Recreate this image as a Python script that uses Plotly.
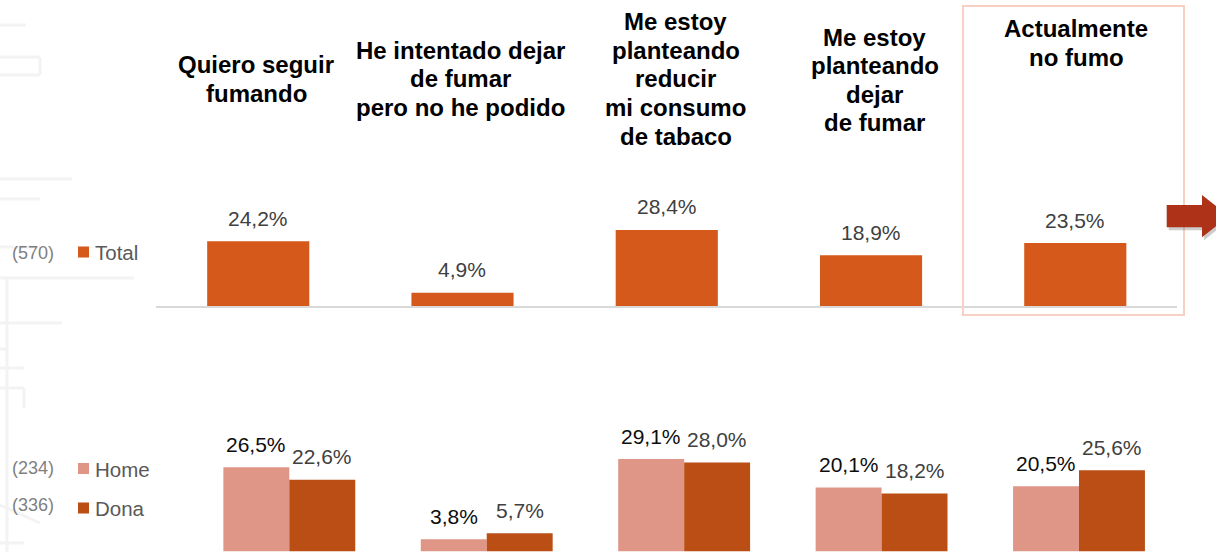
import plotly.graph_objects as go

# ---- data -------------------------------------------------------------
categories = [
    "Quiero seguir<br>fumando",
    "He intentado dejar<br>de fumar<br>pero no he podido",
    "Me estoy<br>planteando<br>reducir<br>mi consumo<br>de tabaco",
    "Me estoy<br>planteando<br>dejar<br>de fumar",
    "Actualmente<br>no fumo",
]
total = [24.2, 4.9, 28.4, 18.9, 23.5]
home = [26.5, 3.8, 29.1, 20.1, 20.5]
dona = [22.6, 5.7, 28.0, 18.2, 25.6]
series_names = ["Total", "Home", "Dona"]
sample_sizes = [570, 234, 336]

# ---- styling ----------------------------------------------------------
W, H = 1216, 552
FONT = "Liberation Sans, Arial, sans-serif"
C_TOTAL = "#D5591A"
C_HOME = "#E09686"
C_DONA = "#BA4E14"
C_LABEL = "#404040"


def px(x):
    return x / W


def py(y):
    return 1 - y / H


def pct(v):
    return f"{v:.1f}".replace(".", ",") + "%"


fig = go.Figure()

fig.add_trace(go.Bar(
    x=categories, y=total, name=series_names[0],
    xaxis="x", yaxis="y", width=0.5,
    marker=dict(color=C_TOTAL, line=dict(width=0)),
    hoverinfo="skip",
))
fig.add_trace(go.Bar(
    x=categories, y=home, name=series_names[1],
    xaxis="x2", yaxis="y2", width=0.334, offset=-0.334,
    marker=dict(color=C_HOME, line=dict(width=0)),
    hoverinfo="skip",
))
fig.add_trace(go.Bar(
    x=categories, y=dona, name=series_names[2],
    xaxis="x2", yaxis="y2", width=0.334, offset=0,
    marker=dict(color=C_DONA, line=dict(width=0)),
    hoverinfo="skip",
))

annotations = []

# value labels
for c, v in zip(categories, total):
    annotations.append(dict(
        x=c, y=v, xref="x", yref="y", text=pct(v), showarrow=False,
        yanchor="middle", yshift=23, font=dict(family=FONT, size=21, color=C_LABEL),
    ))
for c, v in zip(categories, home):
    annotations.append(dict(
        x=c, y=v, xref="x2", yref="y2", text=pct(v), showarrow=False,
        yanchor="middle", yshift=23, xshift=-33,
        font=dict(family=FONT, size=21, color="#0D0D0D"),
    ))
for c, v in zip(categories, dona):
    annotations.append(dict(
        x=c, y=v, xref="x2", yref="y2", text=pct(v), showarrow=False,
        yanchor="middle", yshift=23, xshift=33,
        font=dict(family=FONT, size=21, color=C_LABEL),
    ))

# column headers, one annotation per line
header_dx = [-2, -1.5, 9, 3.5, 1]
header_mid = [79, 79, 79, 80, None]
LINE_H = 28.5
for i, c in enumerate(categories):
    lines = c.split("<br>")
    if header_mid[i] is None:
        ys = [28.5 + k * LINE_H for k in range(len(lines))]
    else:
        top = header_mid[i] - (len(lines) - 1) * LINE_H / 2
        ys = [top + k * LINE_H for k in range(len(lines))]
    for line, yy in zip(lines, ys):
        annotations.append(dict(
            x=c, xref="x", xshift=header_dx[i], y=py(yy), yref="paper",
            text=line, showarrow=False, yanchor="middle", xanchor="center",
            font=dict(family=FONT, size=24, color="#000000", weight="bold"),
        ))

# legend block on the left
legend_rows = [
    (series_names[0], sample_sizes[0], C_TOTAL, 253, 252.5),
    (series_names[1], sample_sizes[1], C_HOME, 467.5, 469),
    (series_names[2], sample_sizes[2], C_DONA, 505, 508.5),
]
shapes = []

# faint decorative lines at the left edge
deco = [
    (0, 25, 26, 25), (0, 57, 40, 57), (40, 57, 40, 75), (0, 75, 40, 75),
    (0, 179, 72, 179), (0, 199, 40, 199), (0, 247, 40, 247),
    (0, 278, 134, 278), (7, 278, 7, 552), (0, 323, 62, 323),
    (0, 349, 7, 349), (0, 368, 24, 368), (0, 388, 24, 388),
    (24, 388, 24, 408), (0, 505, 40, 523), (0, 543, 24, 543),
]
for x0, y0, x1, y1 in deco:
    shapes.append(dict(
        type="line", xref="paper", yref="paper", layer="below",
        x0=px(x0), y0=py(y0), x1=px(x1), y1=py(y1),
        line=dict(color="#F3F3F3", width=3),
    ))

for name, n, color, yn, yt in legend_rows:
    annotations.append(dict(
        x=px(32.5), y=py(yn), xref="paper", yref="paper", text=f"({n})",
        showarrow=False, xanchor="center", yanchor="middle",
        font=dict(family=FONT, size=18, color="#7F7F7F"),
    ))
    annotations.append(dict(
        x=px(93), y=py(yt), xref="paper", yref="paper", text=name,
        showarrow=False, xanchor="left", yanchor="middle",
        font=dict(family=FONT, size=20.5, color="#595959"),
    ))
    shapes.append(dict(
        type="rect", xref="paper", yref="paper",
        x0=px(78), x1=px(89), y0=py(yt + 5), y1=py(yt - 6),
        fillcolor=color, line=dict(width=0),
    ))

# highlight frame around the last column
shapes.append(dict(
    type="rect", xref="paper", yref="paper",
    x0=px(963), x1=px(1184), y0=py(315), y1=py(6),
    line=dict(color="#F8CFC3", width=2), fillcolor="rgba(0,0,0,0)",
))


# arrow pointing right
def arrow_path(dx=0.0, dy=0.0):
    pts = [(1166.7, 205), (1202, 205), (1202, 195), (1229, 216),
           (1202, 237.3), (1202, 227.3), (1166.7, 227.3)]
    s = ""
    for k, (x, y) in enumerate(pts):
        s += ("M" if k == 0 else "L") + f"{px(x + dx):.5f},{py(y + dy):.5f} "
    return s + "Z"


shapes.append(dict(
    type="path", xref="paper", yref="paper", path=arrow_path(2, 3),
    fillcolor="rgba(90,90,90,0.30)", line=dict(width=0),
))
shapes.append(dict(
    type="path", xref="paper", yref="paper", path=arrow_path(),
    fillcolor="#AD3218", line=dict(width=0),
))

fig.update_layout(
    width=W, height=H,
    margin=dict(l=0, r=0, t=0, b=0),
    paper_bgcolor="white", plot_bgcolor="rgba(0,0,0,0)",
    barmode="overlay", showlegend=False,
    font=dict(family=FONT),
    xaxis=dict(
        domain=[px(156.1), px(1177.4)], anchor="y",
        showticklabels=False, ticks="", showgrid=False, zeroline=False,
        showline=True, linecolor="#D9D9D9", linewidth=1.5,
        categoryorder="array", categoryarray=categories,
    ),
    yaxis=dict(
        domain=[py(306), 1], range=[0, 306 / 2.68], visible=False,
    ),
    xaxis2=dict(
        domain=[px(190.6), px(1177.7)], anchor="y2", visible=False,
        categoryorder="array", categoryarray=categories,
    ),
    yaxis2=dict(
        domain=[0, 0.4], range=[-0.25, 69.47], visible=False,
    ),
    annotations=annotations,
    shapes=shapes,
)

fig.write_html("out.html")
